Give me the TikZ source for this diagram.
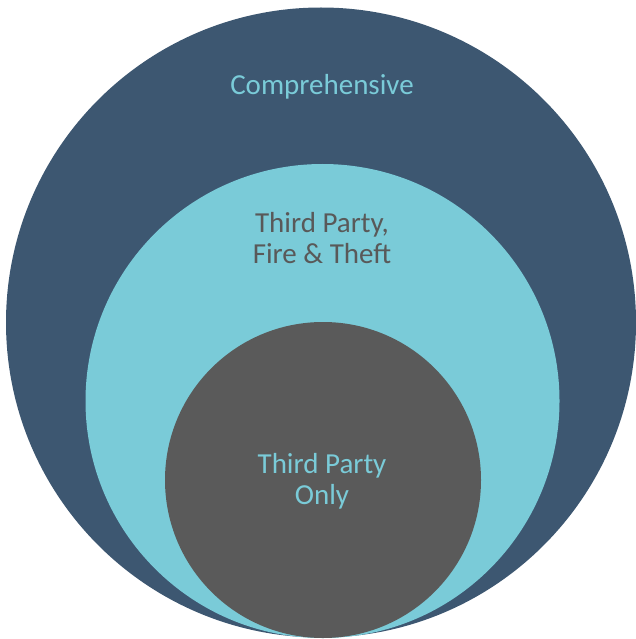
\documentclass[tikz,border=0pt]{standalone}
\usepackage{fontspec}
\setmainfont{Carlito}
\definecolor{outerc}{HTML}{3D5771}
\definecolor{midc}{HTML}{7ACBD8}
\definecolor{innerc}{HTML}{5A5A5A}
\definecolor{greytext}{HTML}{595959}
\begin{document}
\begin{tikzpicture}[x=1pt,y=-1pt,
  ring/.style={circle,inner sep=0pt,draw=none},
  lbl/.style={align=center,font=\fontsize{29}{32}\selectfont,inner sep=0pt,anchor=base}]
\useasboundingbox (0,0) rectangle (635,639);
\node[ring,fill=outerc,minimum size=630pt] (outer) at (321,322.5) {};
\node[ring,fill=midc,minimum size=474pt] (mid) at (322.5,401) {};
\node[ring,fill=innerc,minimum size=316pt] (inner) at (323,480) {};
\node[lbl,text=midc] (t1) at (322,95) {Comprehensive};
\node[lbl,text=greytext] (t2) at (322,232) {Third Party,};
\node[lbl,text=greytext] (t2b) at (322,263) {Fire \& Theft};
\node[lbl,text=midc] (t3) at (322,473) {Third Party};
\node[lbl,text=midc] (t3b) at (322,504) {Only};
\end{tikzpicture}
\end{document}
